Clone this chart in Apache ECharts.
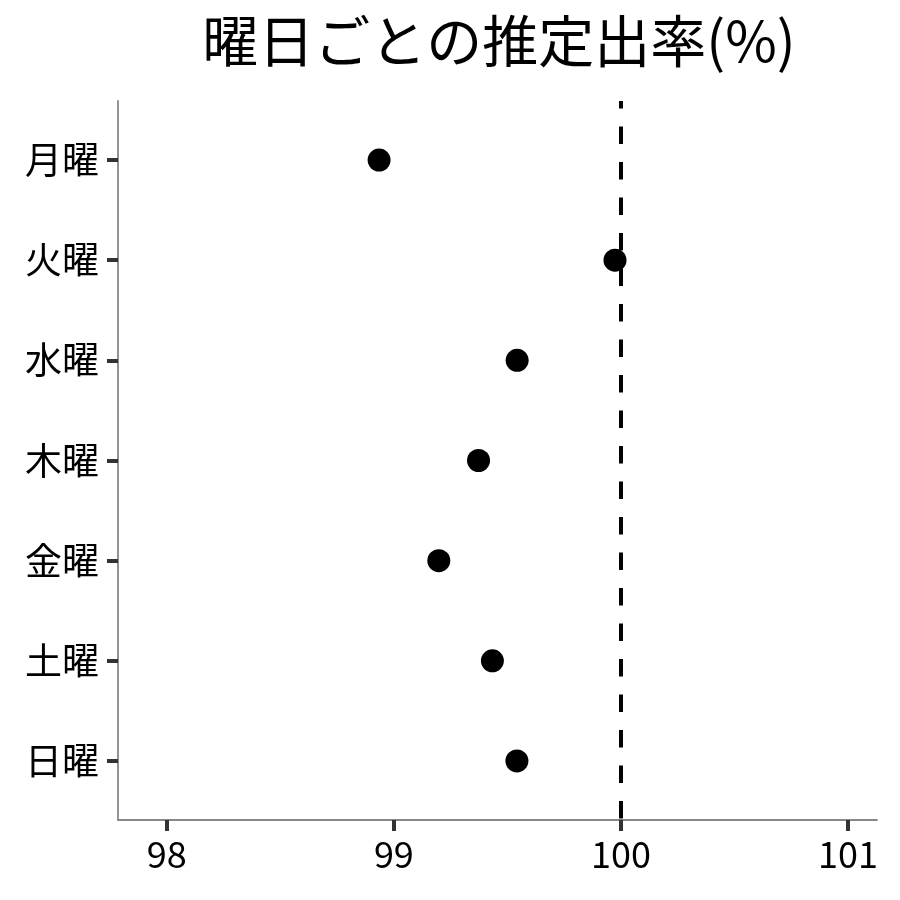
<!DOCTYPE html>
<html><head><meta charset="utf-8">
<script src="https://cdn.jsdelivr.net/npm/echarts@6/dist/echarts.min.js"></script>
<style>html,body{margin:0;padding:0;background:#fff}#c{width:900px;height:900px}</style>
</head><body><div id="c"></div>
<script>
const titleText = '曜日ごとの推定出率(%)';
const days = ['月曜','火曜','水曜','木曜','金曜','土曜','日曜'];
const rates = [98.935, 99.974, 99.543, 99.373, 99.198, 99.434, 99.542];
const xTicks = [98, 99, 100, 101];
const refLine = 100;

const FONT = '"Noto Sans CJK JP","Noto Sans",sans-serif';
const chart = echarts.init(document.getElementById('c'), null, {renderer:'canvas'});
const dayIdx = days.map((d,i)=>i);
chart.setOption({
  backgroundColor:'#fff',
  animation:false,
  title:{
    text:titleText, left:494, top:8, textAlign:'center',
    textStyle:{fontFamily:FONT, fontSize:56, fontWeight:'normal', color:'#000'}
  },
  grid:{left:118, right:23, top:101, bottom:80, containLabel:false},
  xAxis:{
    type:'value', min:97.785, max:101.128,
    splitLine:{show:false},
    axisLine:{show:true, onZero:false, lineStyle:{color:'#888', width:1.8}},
    axisTick:{show:true, length:11, lineStyle:{color:'#333', width:4}, customValues:xTicks},
    axisLabel:{customValues:xTicks, margin:16, fontFamily:FONT, fontSize:36, color:'#000'}
  },
  yAxis:{
    type:'value', min:-0.59, max:6.59, inverse:true,
    splitLine:{show:false},
    axisLine:{show:true, onZero:false, lineStyle:{color:'#888', width:1.8}},
    axisTick:{show:true, length:11, lineStyle:{color:'#333', width:4}, customValues:dayIdx},
    axisLabel:{customValues:dayIdx, margin:19, fontFamily:FONT, fontSize:37, color:'#000',
      formatter:(v)=>days[Math.round(v)] || ''}
  },
  series:[{
    type:'scatter',
    data:rates.map((v,i)=>[v,i]),
    symbol:'circle', symbolSize:23,
    itemStyle:{color:'#000', opacity:1},
    z:3,
    markLine:{
      silent:true, symbol:['none','none'],
      label:{show:false},
      lineStyle:{color:'#000', type:[17.5,18], dashOffset:10, width:4},
      data:[{xAxis:refLine}],
      z:2
    }
  }]
});
</script></body></html>
